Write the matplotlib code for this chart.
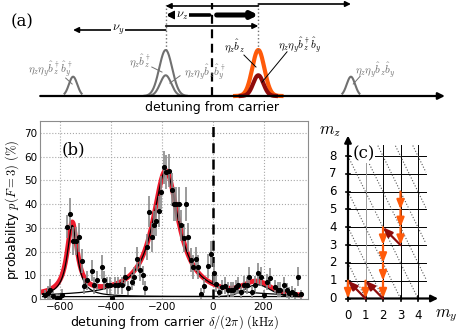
import numpy as np
import matplotlib
matplotlib.use("Agg")
import matplotlib.pyplot as plt

plt.rcParams['mathtext.fontset'] = 'cm'
plt.rcParams['font.family'] = ['DejaVu Sans']

# ---------------- data: panel (b) ----------------
det_khz = [-662, -650, -640, -628, -615, -604, -592, -572, -561, -549, -538, -527, -515, -507,
           -495, -476, -468, -457, -437, -428, -415, -403, -397, -385, -373, -358, -345, -332,
           -318, -308, -298, -288, -276, -265, -259, -250, -240, -232, -222, -212, -203, -193,
           -183, -172, -162, -153, -144, -134, -124, -114, -105, -97, -87, -76, -67, -58, -48,
           -35, -17, -5, 3, 12, 25, 37, 50, 62, 71, 81, 90, 100, 113, 125, 135, 144, 156, 166,
           177, 190, 200, 214, 226, 245, 255, 266, 279, 292, 302, 312, 322, 335, 348]
prob = [1.5, 2.5, 4.0, 1.2, 0.5, 0.3, 1.8, 30.5, 36, 24.5, 24.5, 26, 16, 5.5,
        8, 12, 5.8, 8, 13.5, 8, 5.8, 5.8, 0.3, 5.8, 5.8, 5.8, 9.3, 4.6,
        7.2, 9.3, 17, 12.2, 10, 4.5, 22, 36.7, 26, 31, 33, 37, 45, 55.5,
        53.5, 54, 46, 40, 40, 40, 31, 25.7, 40, 26, 16.4, 13.6, 17, 13.6, 2.2,
        5.5, 14, 18.8, 10.8, 6.5, 2.9, 5, 5.6, 4, 4, 4, 5, 5.8, 2.9, 6, 5.8, 9.3, 2.9, 6,
        10.8, 9.3, 1.8, 7.2, 9, 5, 4, 4, 5.8, 3.6, 2.5, 2.9, 2.2, 9.3, 2.0]
err = [2.5, 3, 4.5, 2, 1.5, 1.5, 2.5, 5, 6.5, 6, 6, 6, 5, 3.5,
       4, 4.5, 3.5, 4, 5, 4, 3.5, 3.5, 1.5, 3.5, 3.5, 3.5, 4, 3,
       3.5, 4, 5, 4.5, 4, 3, 5.5, 6.5, 6, 6, 6.5, 6.5, 7, 7,
       7, 7, 7, 7, 7, 7, 6.5, 6, 7, 6, 5, 5, 5, 5, 2.5,
       3, 5, 5.5, 4.5, 3.5, 2.5, 3, 3.5, 3, 3, 3, 3, 3.5, 2.5, 3.5, 3.5, 4, 2.5, 3.5,
       4.5, 4, 2, 3.5, 4, 3, 3, 3, 3.5, 3, 2.5, 2.5, 2.5, 4, 2]

# fit parameters (Lorentzian red/blue sidebands, Gaussian small sideband, offset)
peak_centers = [-553, -185, 175]
peak_amps = [30, 53, 5]
peak_widths = [24, 62, 50]
offset = 1.0

# ---------------- data: panel (a) ----------------
nu_z = 1.0
nu_y = 2.0
gray_peak_pos = [-(nu_z + nu_y), -nu_z, nu_z - nu_y, nu_z + nu_y]
gray_peak_amp = [0.42, 1.0, 0.45, 0.42]
gray_peak_sig = [0.09, 0.14, 0.12, 0.09]
gray_peak_half = [0.2, 0.48, 0.4, 0.2]
orange_pos, orange_amp = nu_z, 1.0
darkred_pos, darkred_amp = nu_y - nu_z, 0.45

# ---------------- data: panel (c) ----------------
my_ticks = [0, 1, 2, 3, 4]
mz_ticks = [0, 1, 2, 3, 4, 5, 6, 7, 8]
orange_arrows = [((0, 1), (0, 0)), ((1, 1), (1, 0)),
                 ((2, 4), (2, 3)), ((2, 3), (2, 2)), ((2, 2), (2, 1)), ((2, 1), (2, 0)),
                 ((3, 6), (3, 5)), ((3, 5), (3, 4)), ((3, 4), (3, 3))]
darkred_arrows = [((1, 0), (0, 1)), ((2, 0), (1, 1)), ((3, 3), (2, 4))]
diag_consts = [2, 4, 6, 8, 10, 12, 14, 16, 18]

ORANGE = '#ff5a0a'
DARKRED = '#8e0b0b'
GRAY = '#707070'

fig = plt.figure(figsize=(4.57, 3.35), dpi=100)
W, H = 457.0, 335.0

# ================= panel (a) =================
axa = fig.add_axes([0, 1 - 115 / H, 1, 115 / H])
upx = 46.3
u0 = 212.0
axa.set_xlim((0 - u0) / upx, (W - u0) / upx)
axa.set_ylim((96 - 115) / 46.0, 96 / 46.0)
axa.axis('off')

def gauss_line(ax, c, a, s, half, **kw):
    u = np.linspace(c - half, c + half, 200)
    ax.plot(u, a * np.exp(-0.5 * ((u - c) / s) ** 2), **kw)

for c, a, s, hw in zip(gray_peak_pos, gray_peak_amp, gray_peak_sig, gray_peak_half):
    gauss_line(axa, c, a, s, hw, color=GRAY, lw=1.5, solid_capstyle='butt')
gauss_line(axa, orange_pos, orange_amp, 0.13, 0.5, color=ORANGE, lw=3.0)
gauss_line(axa, darkred_pos, darkred_amp, 0.11, 0.38, color=DARKRED, lw=3.0)

# detuning axis
axa.annotate('', xy=(5.03, 0), xytext=(-3.71, 0),
             arrowprops=dict(arrowstyle='-|>', color='k', lw=1.6, mutation_scale=10,
                             shrinkA=0, shrinkB=0))
axa.text(0, (96 - 107) / 46.0, 'detuning from carrier', ha='center', va='center', fontsize=9)
top = (96 - 3) / 46.0
axa.plot([0, 0], [0, top], color='k', ls=(0, (4, 2.5)), lw=1.6)
axa.plot([-nu_z, -nu_z], [1.0, top], color=GRAY, ls=':', lw=1.0)
axa.plot([nu_z, nu_z], [1.0, top], color=GRAY, ls=':', lw=1.0)

def arr(ax, x0, x1, y, lw=1.2, ms=8):
    ax.annotate('', xy=(x1, y), xytext=(x0, y),
                arrowprops=dict(arrowstyle='-|>', color='k', lw=lw, mutation_scale=ms,
                                shrinkA=0, shrinkB=0))

arr(axa, nu_z, -nu_z, (96 - 6) / 46.0)
arr(axa, nu_z, nu_z + nu_y, (96 - 4) / 46.0)
arr(axa, -0.05, -nu_z, (96 - 15) / 46.0, lw=2.6, ms=9)
arr(axa, 0.1, nu_z, (96 - 15) / 46.0, lw=3.6, ms=9)
arr(axa, -nu_z, nu_z, (96 - 26) / 46.0)
arr(axa, -nu_z, -(nu_z + nu_y), (96 - 30) / 46.0)
axa.text(-0.65, (96 - 15) / 46.0, r'$\nu_z$', ha='center', va='center', fontsize=9,
         bbox=dict(facecolor='white', edgecolor='none', pad=0.6))
axa.text(-2.03, (96 - 30) / 46.0, r'$\nu_y$', ha='center', va='center', fontsize=9,
         bbox=dict(facecolor='white', edgecolor='none', pad=0.6))
axa.text((22 - u0) / upx, (96 - 22) / 46.0, '(a)', ha='center', va='center', fontsize=12,
         family='serif')

labels_a = [
    (r'$\eta_z\eta_y\hat{b}_z^\dagger\hat{b}_y^\dagger$', (-3.5, 0.57), (-3.16, 0.39), (-3.02, 0.26), GRAY),
    (r'$\eta_z\hat{b}_z^\dagger$', (-1.56, 0.76), (-1.30, 0.63), (-1.08, 0.52), GRAY),
    (r'$\eta_z\eta_y\hat{b}_z\hat{b}_y^\dagger$', (-0.15, 0.50), (-0.69, 0.44), (-0.91, 0.28), GRAY),
    (r'$\eta_z\hat{b}_z$', (0.475, 1.09), (0.69, 0.89), (0.95, 0.63), 'k'),
    (r'$\eta_z\eta_y\hat{b}_z^\dagger\hat{b}_y$', (1.9, 1.11), (1.62, 0.96), (1.08, 0.30), 'k'),
    (r'$\eta_z\eta_y\hat{b}_z\hat{b}_y$', (3.52, 0.57), (3.2, 0.43), (3.05, 0.26), GRAY),
]
for txt, pos, l0, l1, col in labels_a:
    axa.text(pos[0], pos[1], txt, ha='center', va='center', fontsize=8, color=col)
    axa.plot([l0[0], l1[0]], [l0[1], l1[1]], color=col, lw=0.7)

# ================= panel (b) =================
axb = fig.add_axes([40 / W, (H - 299) / H, 268 / W, 178 / H])
x = np.linspace(-670, 345, 600)
c0 = offset + peak_amps[0] / (1 + ((x - peak_centers[0]) / peak_widths[0]) ** 2)
c1 = offset + peak_amps[1] / (1 + ((x - peak_centers[1]) / peak_widths[1]) ** 2)
c2 = offset + peak_amps[2] * np.exp(-0.5 * ((x - peak_centers[2]) / peak_widths[2]) ** 2)
total = c0 + c1 + c2 - 2 * offset
axb.plot(x, total, color='#ee1c2e', lw=3.5, zorder=2)
for cc in (c0, c1, c2):
    axb.plot(x, cc, color='k', lw=0.9, zorder=4)
axb.errorbar(det_khz, prob, yerr=err, fmt='o', color='k', ms=2.7, ecolor='#8a8a8a',
             elinewidth=1.2, capsize=0, zorder=5)
axb.axvline(0, color='k', ls=(0, (4, 2.5)), lw=1.8, zorder=3)
axb.set_xlim(-680, 375)
axb.set_ylim(0, 75)
axb.set_xticks([-600, -400, -200, 0, 200])
axb.set_yticks([0, 10, 20, 30, 40, 50, 60, 70])
axb.grid(True, ls=':', color='#a8a8a8', lw=0.8)
axb.set_axisbelow(True)
for sp in axb.spines.values():
    sp.set_color('#8c8c8c')
axb.tick_params(labelsize=7.5, length=0, pad=2)
axb.set_xlabel(r'detuning from carrier $\delta/(2\pi)$ $(\mathrm{kHz})$', fontsize=9, labelpad=1)
axb.set_ylabel(r'probability $p(F=3)$ $(\%)$', fontsize=9, labelpad=2)
axb.text(0.08, 0.84, '(b)', transform=axb.transAxes, fontsize=12, family='serif',
         ha='left', va='center')

# ================= panel (c) =================
ux, uy = 17.5, 17.8
ox, oy = 348.0, 298.5
axc = fig.add_axes([(ox - 0.5 * ux) / W, (H - (oy + 0.5 * uy)) / H, 6.0 * ux / W, 10.0 * uy / H])
axc.set_xlim(-0.5, 5.5)
axc.set_ylim(-0.5, 9.5)
axc.axis('off')
gx, gy = 4.45, 8.6
for m in mz_ticks[1:]:
    axc.plot([0, gx], [m, m], color='k', lw=0.7, zorder=1)
for m in my_ticks[1:]:
    axc.plot([m, m], [0, gy], color=('#9a9a9a' if m == 1 else 'k'), lw=0.7, zorder=1)
for c in diag_consts:
    mys = np.linspace(0, gx, 400)
    mzs = c - 2 * mys
    ok = (mzs >= 0) & (mzs <= gy)
    axc.plot(mys[ok], mzs[ok], color='#555555', ls=':', lw=0.8, zorder=1)
# axes arrows
axc.annotate('', xy=(0, 9.15), xytext=(0, 0),
             arrowprops=dict(arrowstyle='-|>', color='k', lw=1.6, mutation_scale=10, shrinkA=0, shrinkB=0))
axc.annotate('', xy=(5.15, 0), xytext=(0, 0),
             arrowprops=dict(arrowstyle='-|>', color='k', lw=1.6, mutation_scale=10, shrinkA=0, shrinkB=0))
for m in mz_ticks:
    axc.plot([-0.12, 0.12], [m, m], color='k', lw=1.2)
    axc.text(-0.86, m, str(m), ha='center', va='center', fontsize=8.5)
for m in my_ticks:
    axc.plot([m, m], [-0.12, 0.12], color='k', lw=1.2)
    axc.text(m, -0.93, str(m), ha='center', va='center', fontsize=8.5)
axc.text(-1.03, 9.47, r'$m_z$', ha='center', va='center', fontsize=12, clip_on=False)
axc.text(5.6, -0.93, r'$m_y$', ha='center', va='center', fontsize=12, clip_on=False)
axc.text(0.9, 8.1, '(c)', ha='center', va='center', fontsize=12, family='serif',
         bbox=dict(facecolor='white', edgecolor='none', pad=0.3))
for (a, b) in orange_arrows:
    axc.annotate('', xy=b, xytext=a,
                 arrowprops=dict(arrowstyle='-|>,head_length=0.55,head_width=0.22', color=ORANGE,
                                 lw=1.6, mutation_scale=10, shrinkA=0, shrinkB=0), zorder=5)
for (a, b) in darkred_arrows:
    axc.annotate('', xy=b, xytext=a,
                 arrowprops=dict(arrowstyle='-|>,head_length=0.55,head_width=0.22', color=DARKRED,
                                 lw=1.6, mutation_scale=10, shrinkA=0, shrinkB=0), zorder=6)

fig.savefig('out.png', dpi=100)
